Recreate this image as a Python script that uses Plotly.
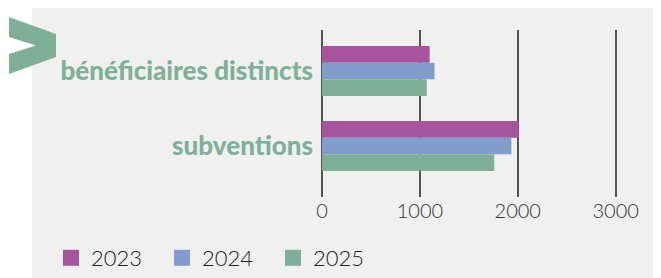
import plotly.graph_objects as go

categories = ["bénéficiaires distincts", "subventions"]
years = ["2023", "2024", "2025"]
values_2023 = [1100, 2010]
values_2024 = [1150, 1935]
values_2025 = [1070, 1760]
series = [values_2023, values_2024, values_2025]
colors = ["#a6559c", "#819dcc", "#7faf99"]
x_ticks = [0, 1000, 2000, 3000]

OFF = 8  # page body margin
W, H = 661 - OFF, 278 - OFF
# plot area in page pixels: x 322..645, y 30..197
ML = 322 - OFF
MT = 30 - OFF
MB = H - (197 - OFF)
MR = W - (645 - OFF)
PW = W - ML - MR
PH = H - MT - MB


def px_x(p):
    return (p - OFF - ML) / PW


def px_y(p):
    return (H - MB - (p - OFF)) / PH


fig = go.Figure()
for name, vals, col in zip(years, series, colors):
    fig.add_trace(go.Bar(
        y=categories, x=vals, name=name, orientation="h",
        marker=dict(color=col, line=dict(width=0)),
        showlegend=False,
    ))
for name, col in zip(years, colors):
    fig.add_trace(go.Scatter(
        x=[None], y=[None], mode="markers", name=name,
        marker=dict(symbol="square", size=16, color=col),
        showlegend=True,
    ))

shapes = [
    dict(type="rect", xref="paper", yref="paper",
         x0=px_x(32), x1=px_x(661), y0=px_y(278), y1=px_y(6),
         fillcolor="#f0f0f0", line=dict(width=0), layer="below"),
]
chev = [(9, 17), (56, 34), (56, 57), (9, 74), (9, 54), (36, 45.5), (9, 37)]
path = "M " + " L ".join(f"{px_x(a):.5f},{px_y(b):.5f}" for a, b in chev) + " Z"
shapes.append(dict(type="path", xref="paper", yref="paper", path=path,
                   fillcolor="#7faf99", line=dict(width=0), layer="above"))

fig.update_layout(
    width=W, height=H,
    margin=dict(l=ML, r=MR, t=MT, b=MB, pad=0, autoexpand=False),
    paper_bgcolor="white",
    plot_bgcolor="rgba(0,0,0,0)",
    barmode="group", bargap=0.333, bargroupgap=0,
    shapes=shapes,
    showlegend=True,
    legend=dict(orientation="h", x=px_x(51), xanchor="left",
                y=px_y(258), yanchor="middle",
                font=dict(family="Lato", size=22, color="#222222", weight=300),
                bgcolor="rgba(0,0,0,0)", entrywidth=66, entrywidthmode="pixels",
                traceorder="normal"),
    xaxis=dict(range=[0, 3300], tickvals=x_ticks, ticktext=[str(t) for t in x_ticks],
               showgrid=True, gridcolor="#555555", gridwidth=1.5,
               zeroline=True, zerolinecolor="#555555", zerolinewidth=2,
               showline=False, ticks="",
               tickfont=dict(family="Lato", size=20, color="#333333", weight=300)),
    yaxis=dict(range=[1.68, -0.547], showgrid=False, zeroline=False,
               showline=False, ticks="", ticklabelstandoff=8,
               tickfont=dict(family="Lato", size=26, color="#7fb09a", weight=900)),
)

fig.write_html("out.html")
